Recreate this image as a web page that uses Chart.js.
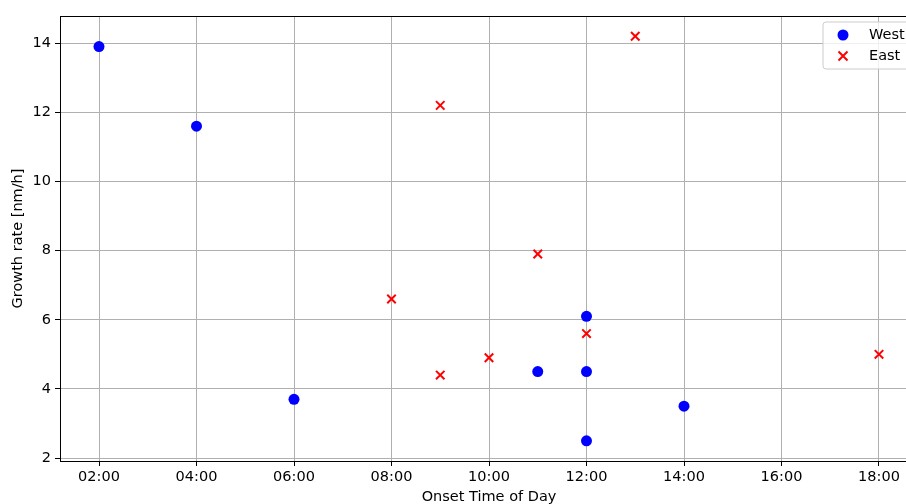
<!DOCTYPE html>
<html><head><meta charset="utf-8">
<script src="https://cdn.jsdelivr.net/npm/chart.js@4/dist/chart.umd.min.js"></script>
<style>html,body{margin:0;padding:0;overflow:hidden;background:#fff}#wrap{width:930px;height:504px}</style>
</head><body><div id="wrap"><canvas id="c" width="930" height="504"></canvas></div>
<script>
const xTickValues = [2,4,6,8,10,12,14,16,18];
const xTickLabels = ['02:00','04:00','06:00','08:00','10:00','12:00','14:00','16:00','18:00'];
const yTickValues = [2,4,6,8,10,12,14];
const westHours = [2,4,6,11,12,12,12,14];
const westRates = [13.9,11.6,3.7,4.5,6.1,4.5,2.5,3.5];
const eastHours = [8,9,9,10,11,12,13,18];
const eastRates = [6.6,12.2,4.4,4.9,7.9,5.6,14.2,5.0];
const seriesNames = ['West','East'];

const FONT = 'DejaVu Sans';
const FS = 14.5;
const frame = {
  id:'frame',
  afterDraw(chart){
    const {ctx, chartArea:a} = chart;
    ctx.save();
    ctx.strokeStyle='#000'; ctx.lineWidth=1;
    ctx.strokeRect(Math.round(a.left)+0.5, Math.round(a.top)+0.5, Math.round(a.right-a.left), Math.round(a.bottom-a.top));
    // legend
    const x0=823, y0=22, w=92, h=47, r=3;
    ctx.beginPath();
    ctx.moveTo(x0+r,y0); ctx.lineTo(x0+w-r,y0); ctx.quadraticCurveTo(x0+w,y0,x0+w,y0+r);
    ctx.lineTo(x0+w,y0+h-r); ctx.quadraticCurveTo(x0+w,y0+h,x0+w-r,y0+h);
    ctx.lineTo(x0+r,y0+h); ctx.quadraticCurveTo(x0,y0+h,x0,y0+h-r);
    ctx.lineTo(x0,y0+r); ctx.quadraticCurveTo(x0,y0,x0+r,y0); ctx.closePath();
    ctx.fillStyle='rgba(255,255,255,0.8)'; ctx.fill();
    ctx.strokeStyle='#cccccc'; ctx.lineWidth=1; ctx.stroke();
    ctx.fillStyle='#0000ff';
    ctx.beginPath(); ctx.arc(843,35,5.5,0,Math.PI*2); ctx.fill();
    ctx.strokeStyle='#ff0000'; ctx.lineWidth=2;
    ctx.beginPath(); ctx.moveTo(838.5,51.5); ctx.lineTo(847.5,60.5); ctx.moveTo(847.5,51.5); ctx.lineTo(838.5,60.5); ctx.stroke();
    ctx.fillStyle='#000'; ctx.font=FS+'px "'+FONT+'"'; ctx.textBaseline='middle'; ctx.textAlign='left';
    ctx.fillText(chart.data.datasets[0].label, 869, 35);
    ctx.fillText(chart.data.datasets[1].label, 869, 56);
    ctx.restore();
  }
};

new Chart(document.getElementById('c'), {
  type:'scatter',
  data:{datasets:[
    {label:seriesNames[0], data:westHours.map((h,i)=>({x:h,y:westRates[i]})), pointStyle:'circle', radius:5.5, backgroundColor:'#0000ff', borderColor:'#0000ff', borderWidth:0},
    {label:seriesNames[1], data:eastHours.map((h,i)=>({x:h,y:eastRates[i]})), pointStyle:'crossRot', radius:6, backgroundColor:'#ff0000', borderColor:'#ff0000', borderWidth:2}
  ]},
  options:{
    responsive:false, animation:false, devicePixelRatio:1,
    layout:{padding:{left:0,top:16,right:12,bottom:0}},
    plugins:{legend:{display:false}, tooltip:{enabled:false}},
    scales:{
      x:{type:'linear', min:1.2, max:18.8, z:1,
        afterBuildTicks:s=>{s.ticks=xTickValues.map(v=>({value:v}));},
        afterFit:s=>{s.height=43;},
        ticks:{callback:(v)=>xTickLabels[xTickValues.indexOf(v)], color:'#000', font:{family:FONT,size:FS}, padding:3, maxRotation:0, autoSkip:false},
        grid:{color:'#b0b0b0', lineWidth:1, tickLength:5, tickColor:'#000', drawTicks:true},
        border:{display:true, color:'#000', width:1},
        title:{display:true, text:'Onset Time of Day', color:'#000', font:{family:FONT,size:FS}, padding:{top:0,bottom:-2}}
      },
      y:{type:'linear', min:1.915, max:14.785, z:1,
        afterBuildTicks:s=>{s.ticks=yTickValues.map(v=>({value:v}));},
        afterFit:s=>{s.width=60;},
        ticks:{color:'#000', font:{family:FONT,size:FS}, padding:4},
        grid:{color:'#b0b0b0', lineWidth:1, tickLength:5, tickColor:'#000', drawTicks:true},
        border:{display:true, color:'#000', width:1},
        title:{display:true, text:'Growth rate [nm/h]', color:'#000', font:{family:FONT,size:FS}, padding:{top:10,bottom:0}}
      }
    }
  },
  plugins:[frame]
});
</script></body></html>
